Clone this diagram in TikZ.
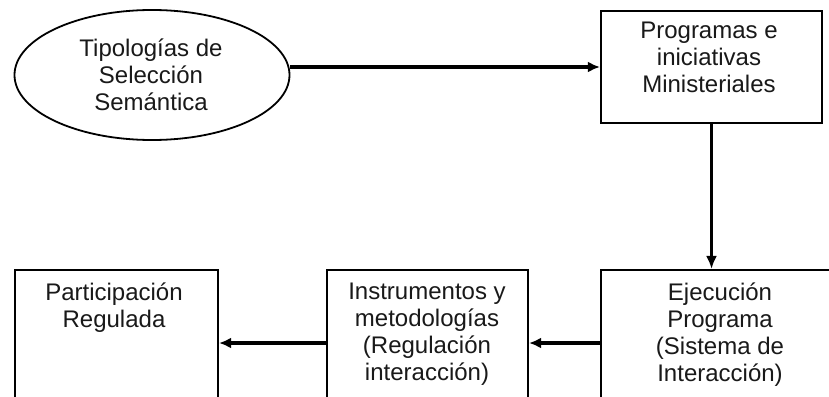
\documentclass[tikz,border=0pt]{standalone}
\usepackage{fontspec}
\setmainfont{Liberation Sans}
\usetikzlibrary{arrows.meta,shapes.geometric}
\tikzset{
  box/.style={draw=black,line width=2.2pt,rectangle,inner sep=0pt},
  oval/.style={draw=black,line width=1.8pt,ellipse,inner sep=0pt},
  txt/.style={align=center,inner sep=0pt,font=\fontsize{24}{27}\selectfont,text=black!90},
  flow/.style={line width=3.4pt,-{Latex[length=12pt,width=11pt]}},
  drop/.style={line width=2.4pt,-{Latex[length=13pt,width=11pt]}}
}
\begin{document}
\begin{tikzpicture}[x=1pt,y=-1pt]
  \useasboundingbox (0,0) rectangle (829,396);
  \clip (0,0) rectangle (829,396);
  \fill[white] (0,0) rectangle (829,396);

  % top row
  \node[oval,minimum width=275pt,minimum height=130pt] (ell) at (152,75) {};
  \node[txt] at (151,75) {Tipologías de\\Selección\\Semántica};

  \node[box,minimum width=221pt,minimum height=112pt] (prog) at (711.5,67) {};
  \node[txt,anchor=north] at (709,22) {Programas e\\iniciativas\\Ministeriales};

  % bottom row (boxes run past the lower edge)
  \node[box,minimum width=203pt,minimum height=146pt] (part) at (116.5,343) {};
  \node[txt,anchor=north] at (114,283) {Participación\\Regulada};

  \node[box,minimum width=201pt,minimum height=146pt] (inst) at (427.5,343) {};
  \node[txt,anchor=north] at (427,283) {Instrumentos y\\metodologías\\(Regulación\\interacción)};

  \node[box,minimum width=239pt,minimum height=146pt] (exec) at (720.5,343) {};
  \node[txt,anchor=north] at (720,283) {Ejecución\\Programa\\(Sistema de\\Interacción)};

  % connectors
  \draw[flow] (ell.east |- prog.west) -- (prog.west);
  \draw[drop] (prog.south) -- (prog.south |- exec.north);
  \draw[flow] (exec.west) -- (inst.east);
  \draw[flow] (inst.west) -- (part.east);
\end{tikzpicture}
\end{document}
